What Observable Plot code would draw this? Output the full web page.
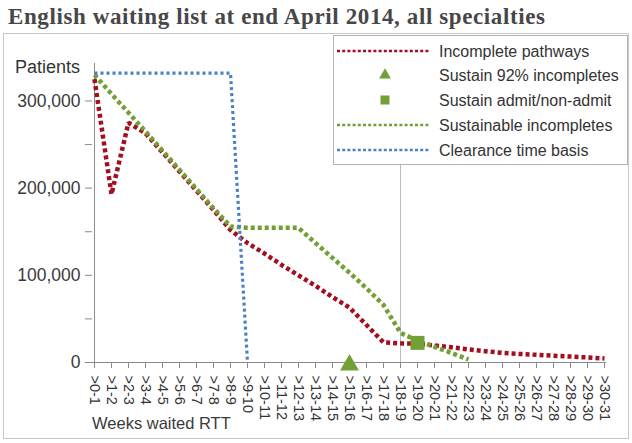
<!DOCTYPE html>
<html>
<head>
<meta charset="utf-8">
<script src="https://cdn.jsdelivr.net/npm/d3@7"></script>
<script src="https://cdn.jsdelivr.net/npm/@observablehq/plot@0.6"></script>
<style>
  html, body { margin: 0; padding: 0; background: #fff; }
  #wrap { position: relative; width: 632px; height: 443px; overflow: hidden; }
  #frame { position: absolute; left: 3px; top: 33px; width: 626px; height: 406px; box-sizing: border-box; border: 1px solid #c8c8c8; }
  #chart { position: absolute; left: 0; top: 0; }
  #legend { position: absolute; left: 333px; top: 35px; width: 295px; height: 130px; box-sizing: border-box; border: 1px solid #b4b4b4; background: #fff; }
</style>
</head>
<body>
<div id="wrap">
  <div id="frame"></div>
  <div id="chart"></div>
  <div id="legend"></div>
</div>
<script>
const weeks = [">0-1", ">1-2", ">2-3", ">3-4", ">4-5", ">5-6", ">6-7", ">7-8", ">8-9", ">9-10",
  ">10-11", ">11-12", ">12-13", ">13-14", ">14-15", ">15-16", ">16-17", ">17-18", ">18-19", ">19-20",
  ">20-21", ">21-22", ">22-23", ">23-24", ">24-25", ">25-26", ">26-27", ">27-28", ">28-29", ">29-30", ">30-31"];

const incompletePathways = [325000, 193000, 275000, 263000, 241000, 219000, 197000, 175000, 152000, 137000,
  125000, 112000, 100000, 88000, 75000, 63000, 43000, 23000, 22000, 21500,
  19500, 17500, 15000, 13000, 11000, 9800, 8800, 7800, 6800, 5800, 4600];

const sustainableIncompletes = [330000, 308000, 286500, 265000, 243000, 221000, 199000, 177000, 156000, 154500,
  154500, 154500, 154500, 137000, 120000, 103000, 85000, 66000, 34000, 25000,
  18000, 11000, 3500];

const clearanceTime = [332000, 332000, 332000, 332000, 332000, 332000, 332000, 332000, 332000, 0];

const sustain92 = [{week: ">15-16", value: 0}];
const sustainAdmit = [{week: ">19-20", value: 22500}];
const markerWeek = ">18-19";

const yTicks = [0, 100000, 200000, 300000];
const yMinorTicks = [50000, 150000, 250000];
const yMax = 343000;

const seriesNames = ["Incomplete pathways", "Sustain 92% incompletes", "Sustain admit/non-admit", "Sustainable incompletes", "Clearance time basis"];

const RED = "#a30f1f", GREEN = "#72a035", BLUE = "#4a80c6";

const rows = vals => vals.map((v, i) => ({week: weeks[i], value: v}));

const chart = Plot.plot({
  width: 632, height: 443,
  marginLeft: 92, marginRight: 26, marginTop: 63, marginBottom: 81,
  style: {fontFamily: "'Liberation Sans', Arial, sans-serif", color: "#333", background: "transparent", overflow: "visible"},
  x: {type: "point", domain: weeks, padding: 0},
  y: {domain: [0, yMax]},
  marks: [
    Plot.ruleX([markerWeek], {y1: 0, y2: yMax, stroke: "#bdbdbd", strokeWidth: 1}),
    Plot.ruleX([weeks[0]], {y1: 0, y2: yMax, stroke: "#8a8a8a"}),
    Plot.ruleY([0], {stroke: "#8a8a8a"}),
    Plot.axisY({ticks: yTicks, tickFormat: d3.format(","), tickSize: 7, tickPadding: 5, fontSize: 17.5, label: null, stroke: "#8a8a8a", fill: "#3a3a3a"}),
    Plot.axisY({ticks: yMinorTicks, tickFormat: () => null, tickSize: 7, label: null, stroke: "#8a8a8a"}),
    Plot.axisX({tickRotate: 90, tickSize: 6, tickPadding: 7, fontSize: 14.5, label: null, stroke: "#8a8a8a", fill: "#333"}),
    Plot.line(rows(incompletePathways), {x: "week", y: "value", stroke: RED, strokeWidth: 4.5, strokeDasharray: "4,3", strokeLinecap: "butt", strokeLinejoin: "miter"}),
    Plot.line(rows(sustainableIncompletes), {x: "week", y: "value", stroke: GREEN, strokeWidth: 4.5, strokeDasharray: "4,3", strokeLinecap: "butt", strokeLinejoin: "miter"}),
    Plot.line(rows(clearanceTime), {x: "week", y: "value", stroke: BLUE, strokeWidth: 3.2, strokeDasharray: "3,3", strokeLinecap: "butt", strokeLinejoin: "miter"}),
    Plot.dot(sustain92, {x: "week", y: "value", symbol: "triangle", r: 7, fill: GREEN, dy: 2.5}),
    Plot.dot(sustainAdmit, {x: "week", y: "value", symbol: "square", r: 7.9, fill: GREEN})
  ]
});
document.getElementById("chart").appendChild(chart);

const svg = d3.select(chart);
const extra = svg.append("g").attr("text-anchor", "start");
extra.append("text").attr("x", 8).attr("y", 24)
  .attr("font-family", "'Liberation Serif', 'Times New Roman', serif").attr("font-weight", "bold")
  .attr("font-size", 23).attr("fill", "#474747")
  .attr("textLength", 537).attr("lengthAdjust", "spacing")
  .text("English waiting list at end April 2014, all specialties");
extra.append("text").attr("x", 15).attr("y", 72.5)
  .attr("font-size", 18).attr("fill", "#333")
  .text("Patients");
extra.append("text").attr("x", 92).attr("y", 429)
  .attr("font-size", 16.5).attr("fill", "#3a3a3a")
  .text("Weeks waited RTT");

// legend
const lg = d3.select("#legend").append("svg").attr("width", 293).attr("height", 128)
  .style("font-family", "'Liberation Sans', Arial, sans-serif");
const rowY = [15, 39, 64, 89, 114];
const kinds = [
  {type: "line", color: RED},
  {type: "triangle", color: GREEN},
  {type: "square", color: GREEN},
  {type: "line", color: GREEN},
  {type: "line", color: BLUE}
];
kinds.forEach((k, i) => {
  const y = rowY[i];
  if (k.type === "line") {
    lg.append("line").attr("x1", 3).attr("x2", 96).attr("y1", y).attr("y2", y)
      .attr("stroke", k.color).attr("stroke-width", 2.6).attr("stroke-dasharray", "3,2.2");
  } else if (k.type === "triangle") {
    lg.append("path").attr("transform", `translate(51,${y})`)
      .attr("d", d3.symbol(d3.symbolTriangle, 60)()).attr("fill", k.color);
  } else {
    lg.append("rect").attr("x", 46.5).attr("y", y - 4.5).attr("width", 9).attr("height", 9).attr("fill", k.color);
  }
  lg.append("text").attr("x", 105).attr("y", y + 5.5).attr("font-size", 16).attr("fill", "#333").text(seriesNames[i]);
});
</script>
</body>
</html>
